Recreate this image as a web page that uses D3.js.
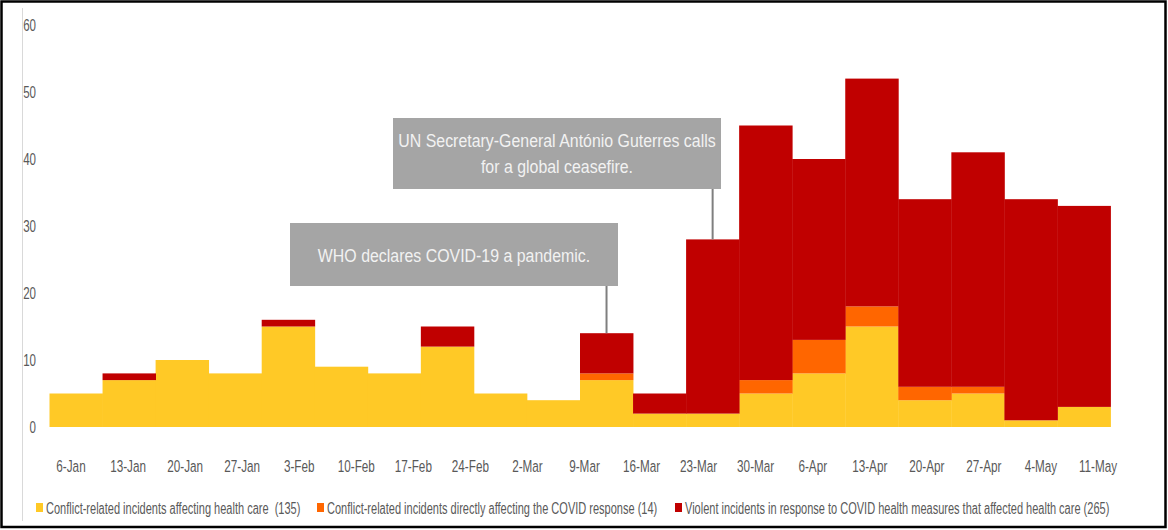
<!DOCTYPE html>
<html>
<head>
<meta charset="utf-8">
<script src="https://cdn.jsdelivr.net/npm/d3@7"></script>
<style>
  html, body { margin: 0; padding: 0; background: #fff; }
  svg { display: block; }
  .lbl { font-family: "Liberation Sans", Arial, sans-serif; white-space: pre; }
</style>
</head>
<body>
<svg id="chart" width="1168" height="530"></svg>
<script>
// ---- data ----
const tickLabels = ["6-Jan","13-Jan","20-Jan","27-Jan","3-Feb","10-Feb","17-Feb","24-Feb","2-Mar","9-Mar","16-Mar","23-Mar","30-Mar","6-Apr","13-Apr","20-Apr","27-Apr","4-May","11-May"];
const weekIndex = d3.range(20);
const conflictHealth = [5,7,10,8,15,9,8,12,5,4,7,2,2,5,8,15,4,5,1,3];
const conflictCovid  = [0,0,0,0,0,0,0,0,0,0,1,0,0,2,5,3,2,1,0,0];
const violentCovid   = [0,1,0,0,1,0,0,3,0,0,6,3,26,38,27,34,28,35,33,30];
const seriesKeys = ["conflictHealth","conflictCovid","violentCovid"];
const seriesNames = [
  "Conflict-related incidents affecting health care  (135)",
  "Conflict-related incidents directly affecting the COVID response (14)",
  "Violent incidents in response to COVID health measures that affected health care (265)"
];
const seriesColors = ["#FFC926","#FF6600","#C00000"];
const yTicks = [0,10,20,30,40,50,60];
const annotations = [
  {lines:["UN Secretary-General António Guterres calls","for a global ceasefire."], week:12},
  {lines:["WHO declares COVID-19 a pandemic."], week:10}
];

const rows = weekIndex.map(i => ({week:i, conflictHealth:conflictHealth[i], conflictCovid:conflictCovid[i], violentCovid:violentCovid[i]}));
const stacked = d3.stack().keys(seriesKeys)(rows);

const svg = d3.select("#chart");
const x = d3.scaleBand().domain(weekIndex).range([49.5, 1110.5]).padding(0);
const xl = d3.scalePoint().domain(tickLabels).range([71, 1098]);
const y = d3.scaleLinear().domain([0,60]).range([427, 25]);

// frame
svg.append("rect").attr("x",1.5).attr("y",1.5).attr("width",1164).attr("height",525.5)
  .attr("fill","#fff").attr("stroke","#000").attr("stroke-width",2.5);

// y axis line
svg.append("line").attr("x1",22.5).attr("x2",22.5).attr("y1",8).attr("y2",521)
  .attr("stroke","#D9D9D9").attr("stroke-width",1);

// bars
svg.append("g").selectAll("g").data(stacked).join("g")
  .attr("fill",(d,i)=>seriesColors[i])
  .selectAll("rect").data(d=>d).join("rect")
  .attr("x",d=>x(d.data.week))
  .attr("width",x.bandwidth()+0.4)
  .attr("y",d=>y(d[1]))
  .attr("height",d=>Math.max(0,y(d[0])-y(d[1])));

// y labels
svg.append("g").selectAll("text").data(yTicks).join("text")
  .attr("class","lbl")
  .attr("transform",d=>`translate(36,${y(d)}) scale(0.68,1)`)
  .attr("text-anchor","end").attr("dominant-baseline","central")
  .attr("font-size",17).attr("fill","#595959")
  .text(d=>d);

// x labels
svg.append("g").selectAll("text").data(tickLabels).join("text")
  .attr("class","lbl")
  .attr("transform",d=>`translate(${xl(d)},466) scale(0.69,1)`)
  .attr("text-anchor","middle").attr("dominant-baseline","central")
  .attr("font-size",17).attr("fill","#595959")
  .text(d=>d);

// annotations
const boxes = [
  {x0:393, x1:721, y0:118, y1:189, lineY:[141,167]},
  {x0:290, x1:618, y0:223, y1:286, lineY:[256]}
];
annotations.forEach((a,k)=>{
  const b = boxes[k];
  const cx = x(a.week) + x.bandwidth()/2;
  const total = conflictHealth[a.week]+conflictCovid[a.week]+violentCovid[a.week];
  svg.append("line").attr("x1",cx).attr("x2",cx).attr("y1",b.y1).attr("y2",y(total))
    .attr("stroke","#7F7F7F").attr("stroke-width",2);
  svg.append("rect").attr("x",b.x0).attr("y",b.y0).attr("width",b.x1-b.x0).attr("height",b.y1-b.y0)
    .attr("fill","#A5A5A5");
  a.lines.forEach((t,j)=>{
    svg.append("text").attr("class","lbl")
      .attr("transform",`translate(${(b.x0+b.x1)/2},${b.lineY[j]}) scale(0.86,1)`)
      .attr("text-anchor","middle").attr("dominant-baseline","central")
      .attr("font-size",18.5).attr("fill","#F2F2F2").text(t);
  });
});

// legend
const legendX = [36, 317, 675];
const lg = svg.append("g");
seriesNames.forEach((n,i)=>{
  lg.append("rect").attr("x",legendX[i]).attr("y",503).attr("width",7).attr("height",9).attr("fill",seriesColors[i]);
  lg.append("text").attr("class","lbl")
    .attr("transform",`translate(${legendX[i]+10},508) scale(0.68,1)`)
    .attr("dominant-baseline","central")
    .attr("font-size",16.2).attr("fill","#595959").text(n);
});
</script>
</body>
</html>
